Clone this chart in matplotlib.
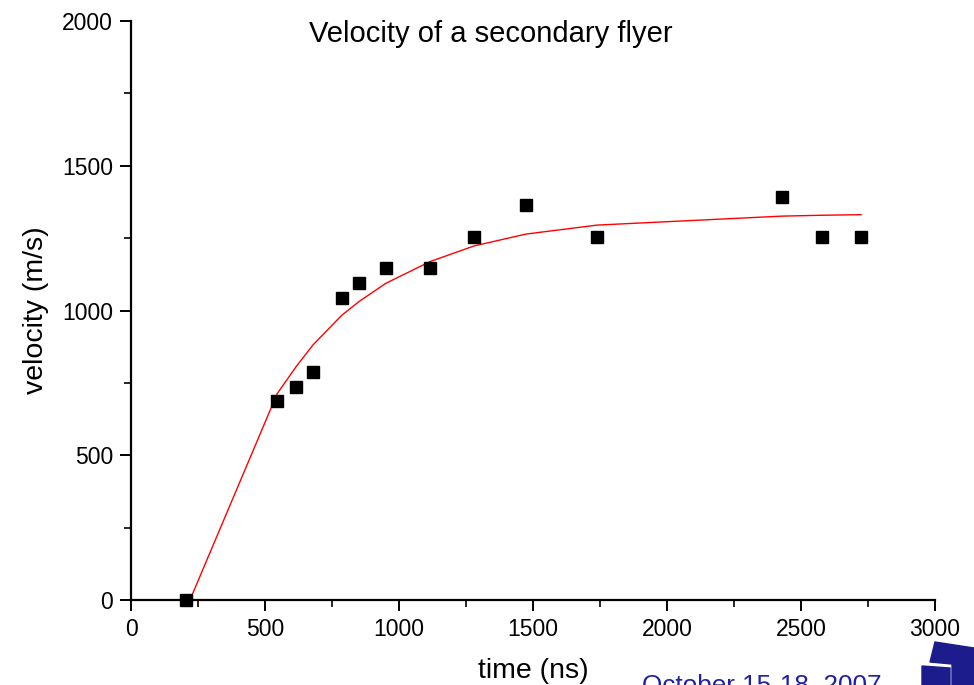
import matplotlib
matplotlib.use("Agg")
import matplotlib.pyplot as plt
from matplotlib.ticker import MultipleLocator
from matplotlib.patches import Polygon

plt.rcParams['font.family'] = ['Liberation Sans', 'DejaVu Sans']

time_ns = [205, 545, 616, 679, 787, 851, 951, 1116, 1280, 1474, 1739, 2429, 2578, 2724]
velocity = [0, 687, 736, 788, 1043, 1095, 1147, 1147, 1254, 1364, 1254, 1392, 1254, 1254]

fit_x = [220, 545, 616, 679, 787, 851, 951, 1116, 1280, 1474, 1739, 2429, 2578, 2724]
fit_y = [0, 712, 806, 881, 984, 1031, 1094, 1169, 1223, 1264, 1295, 1326, 1329, 1331]

fig = plt.figure(figsize=(9.74, 6.85), dpi=100)
ax = fig.add_axes([131/974, 1-600/685, (935-131)/974, (600-21)/685])

ax.plot(fit_x, fit_y, color='red', lw=1.0, zorder=2)
ax.plot(time_ns, velocity, 's', color='black', ms=8.6, zorder=3, clip_on=False)

ax.set_xlim(0, 3000)
ax.set_ylim(0, 2000)
ax.xaxis.set_major_locator(MultipleLocator(500))
ax.xaxis.set_minor_locator(MultipleLocator(250))
ax.yaxis.set_major_locator(MultipleLocator(500))
ax.yaxis.set_minor_locator(MultipleLocator(250))
for s in ['top', 'right']:
    ax.spines[s].set_visible(False)
for s in ['left', 'bottom']:
    ax.spines[s].set_linewidth(1.6)
ax.tick_params(which='major', direction='out', length=8, width=1.4, labelsize=16.5, pad=5)
ax.tick_params(which='minor', direction='out', length=5, width=1.2)

ax.set_xlabel('time (ns)', fontsize=20.5, labelpad=12)
ax.set_ylabel('velocity (m/s)', fontsize=20.5, labelpad=9)
ax.text(0.448, 0.978, 'Velocity of a secondary flyer', transform=ax.transAxes,
        ha='center', va='center', fontsize=21)

fig.text(642/974, 1-692/685, 'October 15-18, 2007', color='#1f1fa8', fontsize=18.8,
         ha='left', va='baseline')

# logo fragment at bottom right
W, H = 974, 685
def P(pts):
    return [(x/W, 1-y/H) for x, y in pts]
navy = '#1c1c8c'
fig.patches.append(Polygon(P([(935, 642), (974, 648), (974, 685), (952, 685), (952, 664), (930, 662)]),
                           closed=True, transform=fig.transFigure, color=navy))
fig.patches.append(Polygon(P([(922, 666), (950, 668), (950, 685), (922, 685)]),
                           closed=True, transform=fig.transFigure, color=navy))

fig.savefig('out.png', dpi=100)
